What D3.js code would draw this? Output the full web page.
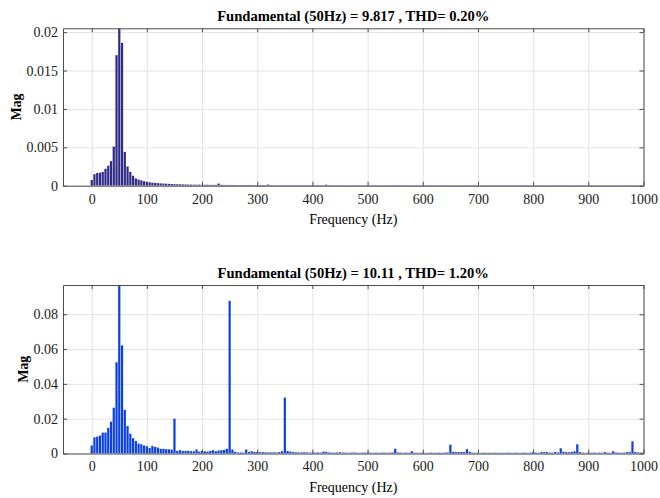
<!DOCTYPE html>
<html>
<head>
<meta charset="utf-8">
<script src="https://cdn.jsdelivr.net/npm/d3@7"></script>
<style>
  body { margin: 0; background: #fff; }
</style>
</head>
<body>
<div id="chart"></div>
<script>
const W = 660, H = 498;

// FFT bins every 5 Hz, 0..1000 Hz
const freqs = d3.range(0, 1001, 5);
const xTicks = [0, 100, 200, 300, 400, 500, 600, 700, 800, 900, 1000];

// top panel
const topTitle = "Fundamental (50Hz) = 9.817 , THD= 0.20%";
const topTicks = [0, 0.005, 0.01, 0.015, 0.02];
const topTickLabels = ["0", "0.005", "0.01", "0.015", "0.02"];
const topMag = [
  0.00074, 0.0015, 0.00165, 0.0017, 0.0018, 0.0022, 0.0026, 0.0032, 0.0051, 0.0170,
  0.0215, 0.0186, 0.0044, 0.0025, 0.0018, 0.0013, 0.00095, 0.0008, 0.0007, 0.00058,
  0.0005, 0.00045, 0.0004, 0.00036, 0.00033, 0.0003, 0.00028, 0.00026, 0.00024, 0.00022,
  0.0002, 0.00019, 0.00018, 0.00017, 0.00016, 0.00015, 0.00014, 0.00014, 0.00013, 0.00013,
  0.00012, 0.00012, 0.00012, 0.00011, 0.00011, 0.00011, 0.00028, 0.00012, 0.0001, 0.0001,
  0.0001, 0.0001, 0.00009, 0.00009, 0.00009, 0.0001, 0.00009, 0.00009, 0.00008, 0.00008,
  0.00008, 0.00008, 0.00008, 0.00009, 0.00015, 0.00008, 0.00008, 0.00007, 0.00007, 0.00007,
  0.00007, 0.00007, 0.00007, 0.00007, 0.00007, 0.00007, 0.00007, 0.00007, 0.00007, 0.00007,
  0.00007, 0.00006, 0.00007, 0.00006, 0.00007, 0.00013, 0.00007, 0.00006, 0.00006, 0.00007,
  0.00006, 0.00006, 0.00007, 0.00006, 0.00006, 0.00006, 0.00007, 0.00006, 0.00006, 0.00006,
  0.00007, 0.00006, 0.00006, 0.00006, 0.00007, 0.00006, 0.00006, 0.00006, 0.00006, 0.00007,
  0.00008, 0.00006, 0.00006, 0.00006, 0.00006, 0.00006, 0.00007, 0.00006, 0.00006, 0.00006,
  0.00006, 0.00006, 0.00006, 0.00007, 0.00006, 0.00006, 0.00006, 0.00006, 0.00006, 0.00006,
  0.00007, 0.00006, 0.00006, 0.00006, 0.00006, 0.00007, 0.00006, 0.00006, 0.00006, 0.00006,
  0.00006, 0.00006, 0.00007, 0.00006, 0.00006, 0.00006, 0.00006, 0.00006, 0.00007, 0.00006,
  0.00006, 0.00006, 0.00006, 0.00006, 0.00006, 0.00006, 0.00007, 0.00006, 0.00006, 0.00006,
  0.00007, 0.00006, 0.00006, 0.00006, 0.00006, 0.00006, 0.00006, 0.00007, 0.00006, 0.00006,
  0.00006, 0.00006, 0.00006, 0.00006, 0.00007, 0.00006, 0.00006, 0.00006, 0.00006, 0.00006,
  0.00006, 0.00007, 0.00006, 0.00006, 0.00006, 0.00006, 0.00006, 0.00006, 0.00006, 0.00007,
  0.00006, 0.00006, 0.00006, 0.00006, 0.00006, 0.00007, 0.00006, 0.00006, 0.00006, 0.00006,
  0.00006
];

// bottom panel
const botTitle = "Fundamental (50Hz) = 10.11 , THD= 1.20%";
const botTicks = [0, 0.02, 0.04, 0.06, 0.08];
const botTickLabels = ["0", "0.02", "0.04", "0.06", "0.08"];
const botMag = [
  0.0046, 0.0093, 0.0097, 0.0103, 0.012, 0.012, 0.0147, 0.0183, 0.0263, 0.0524,
  0.100, 0.0621, 0.0251, 0.0158, 0.0114, 0.0088, 0.0072, 0.0057, 0.0053, 0.0046,
  0.0042, 0.0032, 0.0044, 0.0038, 0.0034, 0.0027, 0.0027, 0.0025, 0.0024, 0.0022,
  0.0200, 0.0015, 0.0019, 0.0015, 0.0015, 0.0016, 0.0013, 0.0013, 0.0023, 0.0011,
  0.0015, 0.0013, 0.0011, 0.0015, 0.0019, 0.0013, 0.0017, 0.0019, 0.0021, 0.0027,
  0.0877, 0.0023, 0.0010, 0.0006, 0.0006, 0.0005, 0.0023, 0.0009, 0.0013, 0.0009,
  0.0009, 0.0007, 0.0008, 0.0007, 0.0006, 0.0006, 0.0007, 0.0006, 0.0008, 0.0013,
  0.0321, 0.0015, 0.0011, 0.0008, 0.0007, 0.0006, 0.0006, 0.0007, 0.0006, 0.0005,
  0.0006, 0.0005, 0.0006, 0.0005, 0.0011, 0.0010, 0.0006, 0.0005, 0.0005, 0.0006,
  0.0007, 0.0005, 0.0005, 0.0004, 0.0005, 0.0006, 0.0005, 0.0004, 0.0005, 0.0005,
  0.0006, 0.0005, 0.0004, 0.0005, 0.0004, 0.0005, 0.0005, 0.0004, 0.0005, 0.0006,
  0.0027, 0.0006, 0.0005, 0.0004, 0.0005, 0.0004, 0.0013, 0.0005, 0.0004, 0.0004,
  0.0005, 0.0004, 0.0004, 0.0005, 0.0004, 0.0004, 0.0005, 0.0004, 0.0005, 0.0006,
  0.0051, 0.0009, 0.0008, 0.0008, 0.0009, 0.0008, 0.0025, 0.0010, 0.0005, 0.0004,
  0.0004, 0.0004, 0.0005, 0.0004, 0.0004, 0.0004, 0.0005, 0.0004, 0.0004, 0.0004,
  0.0004, 0.0005, 0.0004, 0.0004, 0.0005, 0.0004, 0.0004, 0.0005, 0.0004, 0.0005,
  0.0008, 0.0005, 0.0004, 0.0008, 0.0008, 0.0008, 0.0005, 0.0005, 0.0009, 0.0006,
  0.0030, 0.0010, 0.0008, 0.0007, 0.0009, 0.0013, 0.0053, 0.0008, 0.0005, 0.0004,
  0.0005, 0.0004, 0.0005, 0.0004, 0.0005, 0.0004, 0.0008, 0.0005, 0.0004, 0.0013,
  0.0006, 0.0005, 0.0004, 0.0005, 0.0008, 0.0008, 0.0070, 0.0009, 0.0006, 0.0005,
  0.0005
];

const serif = "Liberation Serif";

const svg = d3.select("#chart").append("svg")
  .attr("width", W).attr("height", H);

function panel(cfg) {
  const left = 63, right = 643.5;
  const x = d3.scaleLinear().domain([-52, 1000]).range([left, right]);
  const y = d3.scaleLinear().domain([0, cfg.ymax]).range([cfg.bottom, cfg.top]);
  const g = svg.append("g");
  const ph = cfg.bottom - cfg.top;

  // grid
  g.append("g")
    .attr("transform", `translate(0,${cfg.bottom})`)
    .call(d3.axisBottom(x).tickValues(xTicks).tickSize(-ph).tickFormat(""))
    .call(a => a.select(".domain").remove())
    .call(a => a.selectAll("line").attr("stroke", "#e3e3e3"));
  g.append("g")
    .attr("transform", `translate(${left},0)`)
    .call(d3.axisLeft(y).tickValues(cfg.ticks).tickSize(-(right - left)).tickFormat(""))
    .call(a => a.select(".domain").remove())
    .call(a => a.selectAll("line").attr("stroke", "#e3e3e3"));

  // bars
  const id = "clip" + cfg.name;
  svg.append("clipPath").attr("id", id)
    .append("rect").attr("x", left).attr("y", cfg.top)
    .attr("width", right - left).attr("height", ph);
  const bw = x(4) - x(0);
  g.append("g").attr("clip-path", `url(#${id})`)
    .selectAll("rect")
    .data(freqs.map((f, i) => ({ f: f, v: cfg.mag[i] })))
    .enter().append("rect")
    .attr("x", d => x(d.f) - bw / 2)
    .attr("y", d => y(d.v))
    .attr("width", bw)
    .attr("height", d => cfg.bottom - y(d.v))
    .attr("fill", cfg.color);

  // axes with inward ticks
  const style = a => {
    a.select(".domain").attr("stroke", "#4d4d4d");
    a.selectAll(".tick line").attr("stroke", "#4d4d4d");
    a.selectAll("text").style("font-family", serif)
      .attr("font-size", 14).attr("fill", "#1a1a1a");
  };
  g.append("g").attr("transform", `translate(0,${cfg.bottom})`)
    .call(d3.axisBottom(x).tickValues(xTicks).tickSizeInner(-4).tickSizeOuter(0).tickPadding(8)
      .tickFormat(d3.format("d")))
    .call(style);
  g.append("g").attr("transform", `translate(0,${cfg.top})`)
    .call(d3.axisTop(x).tickValues(xTicks).tickSizeInner(-4).tickSizeOuter(0).tickFormat(""))
    .call(style);
  g.append("g").attr("transform", `translate(${left},0)`)
    .call(d3.axisLeft(y).tickValues(cfg.ticks).tickSizeInner(-4).tickSizeOuter(0).tickPadding(5)
      .tickFormat((d, i) => cfg.tickLabels[i]))
    .call(style);
  g.append("g").attr("transform", `translate(${right},0)`)
    .call(d3.axisRight(y).tickValues(cfg.ticks).tickSizeInner(-4).tickSizeOuter(0).tickFormat(""))
    .call(style);

  // labels
  g.append("text")
    .attr("x", (left + right) / 2).attr("y", cfg.top - 7)
    .attr("text-anchor", "middle").attr("font-size", 14.6).attr("font-weight", "bold")
    .style("font-family", serif)
    .text(cfg.title);
  g.append("text")
    .attr("x", (left + right) / 2).attr("y", cfg.bottom + 38)
    .attr("text-anchor", "middle").attr("font-size", 14)
    .style("font-family", serif)
    .text("Frequency (Hz)");
  g.append("text")
    .attr("transform", `translate(${cfg.ylabX},${(cfg.top + cfg.bottom) / 2}) rotate(-90)`)
    .attr("text-anchor", "middle").attr("font-size", 14).attr("font-weight", "bold")
    .style("font-family", serif)
    .text("Mag");
}

panel({ name: "a", top: 28.3, bottom: 185.7, ymax: 0.0205, ticks: topTicks,
  tickLabels: topTickLabels, mag: topMag, color: "#2e2b87", title: topTitle, ylabX: 21 });
panel({ name: "b", top: 285, bottom: 453.5, ymax: 0.0968, ticks: botTicks,
  tickLabels: botTickLabels, mag: botMag, color: "#0b40e2", title: botTitle, ylabX: 28 });
</script>
</body>
</html>
